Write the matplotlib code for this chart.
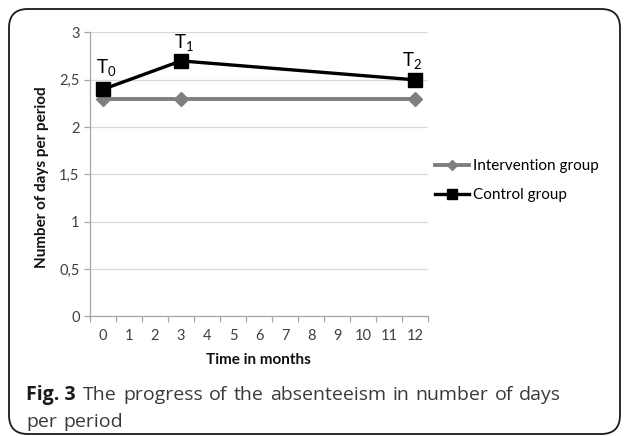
import matplotlib
matplotlib.use("Agg")
import matplotlib.pyplot as plt
from matplotlib.patches import FancyBboxPatch

months = list(range(13))
point_months = [0, 3, 12]
intervention = [2.3, 2.3, 2.3]
control = [2.4, 2.7, 2.5]
point_labels = ["T$_0$", "T$_1$", "T$_2$"]
y_ticks = [0, 0.5, 1, 1.5, 2, 2.5, 3]
y_tick_labels = ["0", "0,5", "1", "1,5", "2", "2,5", "3"]
caption_bold = "Fig. 3"
caption_line1 = "The progress of the absenteeism in number of days"
caption_line2 = "per period"

CHART_FONT = ['Lato', 'DejaVu Sans']
CAP_FONT = ['Open Sans', 'DejaVu Sans']
plt.rcParams['font.family'] = CHART_FONT
plt.rcParams['mathtext.fontset'] = 'custom'
plt.rcParams['mathtext.rm'] = 'Lato'

W, H = 627, 436
fig = plt.figure(figsize=(W/100, H/100), dpi=100)

# rounded border (pixel rows 9..434 from the top)
box = FancyBboxPatch((9/W, 1 - 434/H), (620-9)/W, (434-9)/H,
                     boxstyle="round,pad=0,rounding_size=0.03",
                     transform=fig.transFigure, fill=False, edgecolor='#1a1a1a', linewidth=1.3,
                     mutation_aspect=W/H)
fig.add_artist(box)

ax = fig.add_axes([90/W, 1-316.5/H, (428-90)/W, (316.5-32.5)/H])
ax.set_xlim(-0.5, 12.5)
ax.set_ylim(0, 3)

ax.plot(point_months, intervention, color='#7f7f7f', linewidth=2.8, marker='D', markersize=7,
        label='Intervention group', zorder=3)
ax.plot(point_months, control, color='black', linewidth=2.4, marker='s', markersize=9.5,
        label='Control group', zorder=4)

label_offsets = [(2, 7.5), (2, 5), (-2, 6)]
for xm, yv, lab, off in zip(point_months, control, point_labels, label_offsets):
    ax.annotate(lab, (xm, yv), xytext=off, textcoords='offset points',
                ha='center', va='bottom', fontsize=13.5, color='black')

ax.set_yticks(y_ticks)
ax.set_yticklabels(y_tick_labels, fontsize=10.5, color='#404040')
ax.set_xticks(months)
ax.set_xticklabels([str(m) for m in months], fontsize=10.5, color='#404040')
ax.set_xticks([m - 0.5 for m in months] + [12.5], minor=True)
ax.tick_params(axis='x', which='major', length=0, pad=9)
ax.tick_params(axis='x', which='minor', length=4.5, color='#a6a6a6', width=0.9)
ax.tick_params(axis='y', length=4.5, color='#a6a6a6', width=0.9, pad=3)
ax.yaxis.grid(True, color='#d9d9d9', linewidth=0.9)
ax.set_axisbelow(True)
for s in ['top', 'right']:
    ax.spines[s].set_visible(False)
for s in ['left', 'bottom']:
    ax.spines[s].set_color('#a6a6a6')
    ax.spines[s].set_linewidth(0.9)

ax.set_ylabel('Number of days per period', fontsize=11, fontweight='bold', color='#111111')
ax.yaxis.label.set_va('center')
ax.yaxis.set_label_coords(42/W, 1-177/H, transform=fig.transFigure)
ax.set_xlabel('Time in months', fontsize=11, fontweight='bold', color='#111111')
ax.xaxis.set_label_coords(258/W, 1-360/H, transform=fig.transFigure)
ax.xaxis.label.set_va('center')

ax.legend(loc='upper left', bbox_to_anchor=(435/W, 1-159/H), bbox_transform=fig.transFigure,
          frameon=False, fontsize=11, handlelength=2.2, labelspacing=0.98, handletextpad=0.3,
          borderaxespad=0, borderpad=0, markerscale=0.75)

# caption with justified first line
fig.canvas.draw()
renderer = fig.canvas.get_renderer()
y1 = 1 - 395/H
y2 = 1 - 422/H
fig.text(26/W, y1, caption_bold, fontsize=14, fontweight='bold', family=CAP_FONT,
         va='center', ha='left', color='#1a1a1a')
words = caption_line1.split()
start_x, end_x = 83, 561
artists = []
for w in words:
    t = fig.text(0, y1, w, fontsize=14, family=CAP_FONT, va='center', ha='left', color='#3a3a3a')
    artists.append(t)
widths = [a.get_window_extent(renderer).width for a in artists]
gap = (end_x - start_x - sum(widths)) / (len(words) - 1)
x = start_x
for a, wd in zip(artists, widths):
    a.set_x(x / W)
    x += wd + gap
x = 26
for w in caption_line2.split():
    t = fig.text(x / W, y2, w, fontsize=14, family=CAP_FONT, va='center', ha='left', color='#3a3a3a')
    x += t.get_window_extent(renderer).width + gap

fig.savefig('out.png', dpi=100)
